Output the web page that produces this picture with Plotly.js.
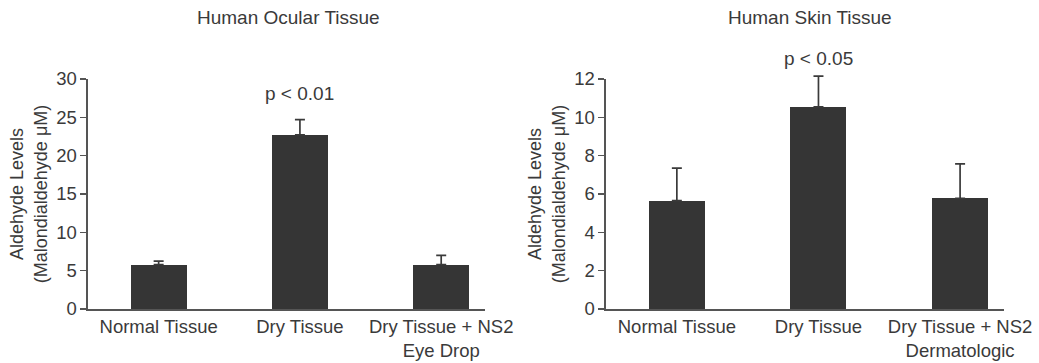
<!DOCTYPE html>
<html>
<head>
<meta charset="utf-8">
<script src="https://cdn.plot.ly/plotly-3.0.1.min.js"></script>
<style>html,body{margin:0;padding:0;background:#fff;}#chart{width:1039px;height:363px;}</style>
</head>
<body>
<div id="chart"></div>
<script>
var ocularCategories = ["Normal Tissue", "Dry Tissue", "Dry Tissue + NS2<br>Eye Drop"];
var skinCategories = ["Normal Tissue", "Dry Tissue", "Dry Tissue + NS2<br>Dermatologic"];
var ocularValues = [5.8, 22.7, 5.8];
var ocularErrors = [0.45, 2.0, 1.2];
var skinValues = [5.65, 10.55, 5.77];
var skinErrors = [1.7, 1.6, 1.8];
var ocularTicks = [0, 5, 10, 15, 20, 25, 30];
var skinTicks = [0, 2, 4, 6, 8, 10, 12];
var panelTitles = ["Human Ocular Tissue", "Human Skin Tissue"];
var pLabels = ["p < 0.01", "p < 0.05"];
var yTitle = "Aldehyde Levels<br>(Malondialdehyde μM)";

var font = "Liberation Sans, Arial, sans-serif";
var textColor = "#3a3a3a";
var barColor = "#353535";
var fs = 18.5;

var yDom = [0.1488, 0.7824];
var yDomErr = [0.1488, 0.95];
var xDom1 = [0.0847, 0.4668];
var xDom2 = [0.5833, 0.9663];
var xRange = [-0.5, 2.31];
var ocularMax = 30, skinMax = 12;
var stretch = (yDomErr[1] - yDomErr[0]) / (yDom[1] - yDom[0]);

function barTrace(vals, xa, ya) {
  return {
    type: "bar",
    x: [0, 1, 2],
    y: vals,
    xaxis: xa, yaxis: ya,
    width: 0.395,
    marker: {color: barColor, line: {width: 0}},
    hoverinfo: "none",
    showlegend: false
  };
}
function errTrace(vals, errs, xa, ya) {
  return {
    type: "scatter",
    mode: "markers",
    x: [0, 1, 2],
    y: vals,
    xaxis: xa, yaxis: ya,
    marker: {size: 1, opacity: 0},
    error_y: {type: "data", array: errs, arrayminus: [0, 0, 0], symmetric: false,
              color: "#3a3a3a", thickness: 1.7, width: 5},
    hoverinfo: "none",
    showlegend: false
  };
}

var data = [
  barTrace(ocularValues, "x", "y"),
  barTrace(skinValues, "x2", "y2"),
  errTrace(ocularValues, ocularErrors, "x3", "y3"),
  errTrace(skinValues, skinErrors, "x4", "y4")
];

function xAxis(domain, cats, anchor) {
  return {
    domain: domain, anchor: anchor,
    range: xRange,
    tickmode: "array", tickvals: [0, 1, 2], ticktext: cats,
    ticks: "", showgrid: false, zeroline: false,
    showline: true, linecolor: "#555", linewidth: 1.6,
    tickfont: {family: font, size: fs, color: textColor},
    fixedrange: true
  };
}
function yAxis(domain, range, ticks, anchor) {
  return {
    domain: domain, anchor: anchor,
    range: range,
    tickmode: "array", tickvals: ticks,
    ticks: "outside", ticklen: 6, tickwidth: 1.6, tickcolor: "#555",
    showgrid: false, zeroline: false,
    showline: true, linecolor: "#555", linewidth: 1.6,
    tickfont: {family: font, size: fs, color: textColor},
    title: {text: yTitle, font: {family: font, size: 18, color: textColor}, standoff: 4},
    fixedrange: true
  };
}
function hiddenAxis(domain, range, anchor) {
  return {domain: domain, anchor: anchor, range: range, visible: false,
          showgrid: false, zeroline: false, fixedrange: true};
}

var layout = {
  width: 1039, height: 363,
  margin: {l: 0, r: 0, t: 0, b: 0},
  paper_bgcolor: "rgba(0,0,0,0)", plot_bgcolor: "rgba(0,0,0,0)",
  bargap: 0,
  xaxis: xAxis(xDom1, ocularCategories, "y"),
  yaxis: yAxis(yDom, [0, ocularMax], ocularTicks, "x"),
  xaxis2: xAxis(xDom2, skinCategories, "y2"),
  yaxis2: yAxis(yDom, [0, skinMax], skinTicks, "x2"),
  xaxis3: hiddenAxis(xDom1, xRange, "y3"),
  yaxis3: hiddenAxis(yDomErr, [0, ocularMax * stretch], "x3"),
  xaxis4: hiddenAxis(xDom2, xRange, "y4"),
  yaxis4: hiddenAxis(yDomErr, [0, skinMax * stretch], "x4"),
  annotations: [
    {text: panelTitles[0], xref: "paper", yref: "paper", x: 288/1039, y: 1 - 17/363,
     showarrow: false, xanchor: "center", yanchor: "middle",
     font: {family: font, size: 19, color: textColor}},
    {text: panelTitles[1], xref: "paper", yref: "paper", x: 810/1039, y: 1 - 17/363,
     showarrow: false, xanchor: "center", yanchor: "middle",
     font: {family: font, size: 19, color: textColor}},
    {text: pLabels[0], xref: "x", yref: "paper", x: 1, y: 1 - 93/363,
     showarrow: false, xanchor: "center", yanchor: "middle",
     font: {family: font, size: 19, color: textColor}},
    {text: pLabels[1], xref: "x2", yref: "paper", x: 1, y: 1 - 59/363,
     showarrow: false, xanchor: "center", yanchor: "middle",
     font: {family: font, size: 19, color: textColor}}
  ]
};

Plotly.newPlot("chart", data, layout, {displayModeBar: false, staticPlot: true});
</script>
</body>
</html>
